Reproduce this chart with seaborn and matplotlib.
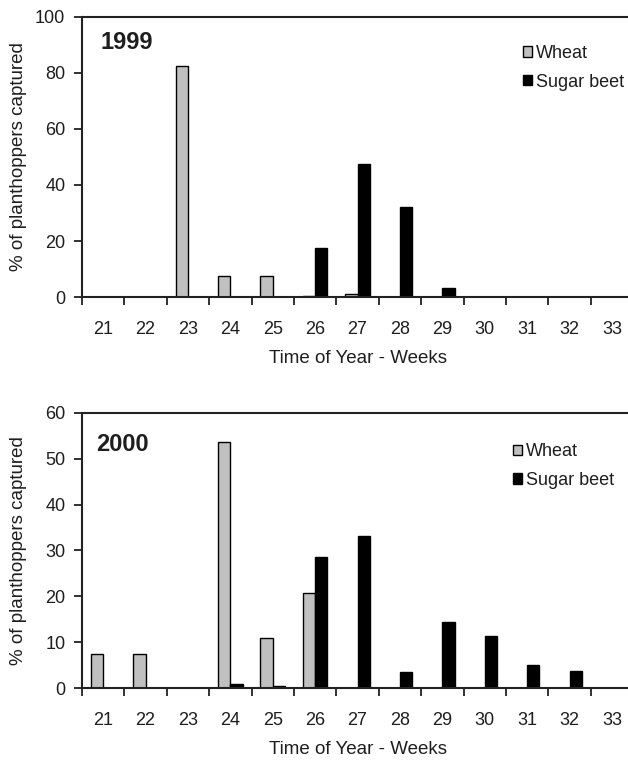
import pandas as pd
import matplotlib.pyplot as plt
import seaborn as sns
from matplotlib.patches import Patch

sns.set_style("white")
plt.rcParams['font.family'] = ['Liberation Sans', 'DejaVu Sans']
plt.rcParams['text.color'] = '#1e1e1e'
plt.rcParams['axes.labelcolor'] = '#1e1e1e'
plt.rcParams['xtick.color'] = '#1e1e1e'
plt.rcParams['ytick.color'] = '#1e1e1e'

weeks = [str(w) for w in range(21, 34)]

# 1999 values (% of planthoppers captured)
wheat_1999 = [0, 0, 82.5, 7.5, 7.5, 0.4, 1.1, 0, 0, 0, 0, 0, 0]
beet_1999 = [0, 0, 0, 0, 0, 17.6, 47.4, 32.0, 3.2, 0, 0, 0, 0]

# 2000 values
wheat_2000 = [7.5, 7.5, 0, 53.6, 11.0, 20.8, 0, 0, 0, 0, 0, 0, 0]
beet_2000 = [0, 0, 0, 0.8, 0.4, 28.6, 33.2, 3.4, 14.3, 11.4, 5.0, 3.7, 0]

crops = ["Wheat", "Sugar beet"]
colors = {"Wheat": "#c0c0c0", "Sugar beet": "#000000"}


def make_df(wheat, beet):
    rows = []
    for w, v in zip(weeks, wheat):
        rows.append({"Week": w, "Crop": "Wheat", "Pct": v})
    for w, v in zip(weeks, beet):
        rows.append({"Week": w, "Crop": "Sugar beet", "Pct": v})
    return pd.DataFrame(rows)


fig = plt.figure(figsize=(6.28, 7.6), dpi=100)
ax1 = fig.add_axes([0.1306, 0.609, 0.8775, 0.369])
ax2 = fig.add_axes([0.1306, 0.0947, 0.8775, 0.362])

# ax, data, year, ymax, step, year pos, legend anchor
panels = [
    (ax1, make_df(wheat_1999, beet_1999), "1999", 100, 20, (0.033, 0.907), (0.80, 0.90)),
    (ax2, make_df(wheat_2000, beet_2000), "2000", 60, 10, (0.025, 0.884), (0.782, 0.89)),
]

for ax, df, year, ymax, step, ypos, lpos in panels:
    sns.barplot(data=df, x="Week", y="Pct", hue="Crop", order=weeks,
                hue_order=crops, palette=colors, width=0.58, ax=ax,
                edgecolor="black", linewidth=1.0, legend=False)
    ax.set_xlim(-0.5, len(weeks) - 0.5)
    ax.set_ylim(0, ymax)
    ax.set_yticks(range(0, ymax + 1, step))
    ax.set_xticks([i - 0.5 for i in range(len(weeks))], minor=True)
    ax.tick_params(axis='x', which='major', length=0, labelsize=13, pad=17)
    ax.tick_params(axis='x', which='minor', length=6, width=1.3,
                   direction='out', bottom=True, color='#222222')
    ax.tick_params(axis='y', length=6, width=1.3, direction='out', left=True,
                   labelsize=13, pad=6, color='#222222')
    for s in ax.spines.values():
        s.set_linewidth(1.5)
        s.set_color('#222222')
    ax.spines['right'].set_visible(False)
    ax.set_xlabel("Time of Year - Weeks", fontsize=13.5, labelpad=9)
    ax.set_ylabel("% of planthoppers captured", fontsize=13.5)
    ax.yaxis.set_label_coords(-0.100, 0.5)
    ax.text(ypos[0], ypos[1], year, transform=ax.transAxes, fontsize=17,
            fontweight='bold', va='center')
    handles = [Patch(facecolor=colors[c], edgecolor='black', linewidth=1.0,
                     label=c) for c in crops]
    ax.legend(handles=handles, loc='upper left', bbox_to_anchor=lpos,
              frameon=False, fontsize=13, handlelength=0.5,
              handleheight=0.5, handletextpad=0.2, labelspacing=0.65,
              borderpad=0, borderaxespad=0)

fig.savefig("out.png", dpi=100)
